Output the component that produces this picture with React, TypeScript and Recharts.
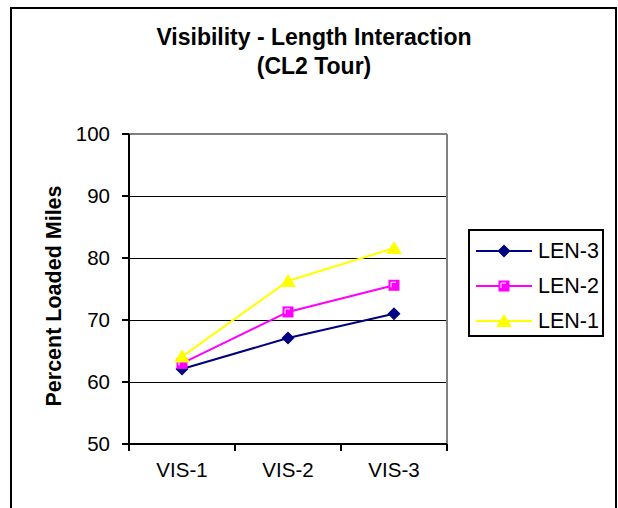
import React from "react";
import {
  LineChart,
  Line,
  XAxis,
  YAxis,
  CartesianGrid,
  ReferenceLine,
  Legend,
} from "recharts";

// values
const categories = ["VIS-1", "VIS-2", "VIS-3"];
const len3 = [62.1, 67.1, 71.0];
const len2 = [63.0, 71.3, 75.6];
const len1 = [64.1, 76.3, 81.6];
const yTicks = [50, 60, 70, 80, 90, 100];

type MarkerKind = "diamond" | "square" | "triangle";

const series: { key: string; name: string; color: string; marker: MarkerKind }[] = [
  { key: "len3", name: "LEN-3", color: "#000080", marker: "diamond" },
  { key: "len2", name: "LEN-2", color: "#FF00FF", marker: "square" },
  { key: "len1", name: "LEN-1", color: "#FFFF00", marker: "triangle" },
];

const data = categories.map((c, i) => ({
  name: c,
  len3: len3[i],
  len2: len2[i],
  len1: len1[i],
}));

const FONT = '"Liberation Sans", Arial, sans-serif';
const TICK = 7;
const X_TICK_MARGIN = 11;

function Marker({ kind, cx, cy, color }: { kind: MarkerKind; cx: number; cy: number; color: string }) {
  if (kind === "diamond") {
    return (
      <path
        d={`M${cx},${cy - 6.5} L${cx + 6.5},${cy} L${cx},${cy + 6.5} L${cx - 6.5},${cy} Z`}
        fill={color}
      />
    );
  }
  if (kind === "square") {
    return (
      <g>
        <rect x={cx - 5.5} y={cy - 5.5} width={11} height={11} fill={color} />
        <path d={`M${cx - 3},${cy + 2} V${cy - 3} H${cx + 2}`} stroke="#fff" strokeWidth={1} fill="none" />
      </g>
    );
  }
  return <path d={`M${cx},${cy - 7} L${cx + 8},${cy + 6} L${cx - 8},${cy + 6} Z`} fill={color} />;
}

function makeDot(kind: MarkerKind, color: string) {
  return (props: any) => {
    const { cx, cy, index } = props;
    if (cx == null || cy == null) return <g key={index} />;
    return (
      <g key={`${kind}-${index}`}>
        <Marker kind={kind} cx={cx} cy={cy} color={color} />
      </g>
    );
  };
}

// Excel style: tick marks between categories, label at the middle
function XTick(props: any) {
  const { x, y, payload, index } = props;
  const axisY = y - TICK - X_TICK_MARGIN;
  const half = payload.offset || 53;
  return (
    <g>
      <line x1={x - half} x2={x - half} y1={axisY} y2={axisY + TICK} stroke="#000" strokeWidth={2} />
      {index === categories.length - 1 && (
        <line x1={x + half} x2={x + half} y1={axisY} y2={axisY + TICK} stroke="#000" strokeWidth={2} />
      )}
      <text x={x} y={y} dy="0.71em" textAnchor="middle" fontSize={20.5} fontFamily={FONT} fill="#000">
        {payload.value}
      </text>
    </g>
  );
}

function YAxisTitle(props: any) {
  const vb = props.viewBox || { x: 49, y: 134, height: 310 };
  const x = vb.x + 12;
  const y = vb.y + vb.height / 2 + 7;
  return (
    <text
      x={x}
      y={y}
      transform={`rotate(-90, ${x}, ${y})`}
      textAnchor="middle"
      fontSize={21.5}
      fontWeight="bold"
      fontFamily={FONT}
      fill="#000"
    >
      Percent Loaded Miles
    </text>
  );
}

function LegendBox() {
  return (
    <div
      style={{
        width: 136,
        height: 108,
        border: "2px solid #000",
        boxSizing: "border-box",
        background: "#fff",
        position: "relative",
        fontFamily: FONT,
      }}
    >
      {series.map((s, i) => (
        <div
          key={s.key}
          style={{
            position: "absolute",
            left: 6,
            top: 9.5 + i * 35,
            height: 20,
            display: "flex",
            alignItems: "center",
          }}
        >
          <svg width={56} height={20} style={{ display: "block" }}>
            <line x1={0} x2={56} y1={10} y2={10} stroke={s.color} strokeWidth={2} />
            <Marker kind={s.marker} cx={28} cy={10} color={s.color} />
          </svg>
          <span style={{ marginLeft: 6, fontSize: 21.5, lineHeight: "20px", color: "#000", whiteSpace: "nowrap" }}>
            {s.name}
          </span>
        </div>
      ))}
    </div>
  );
}

export default function App() {
  return (
    <div
      style={{
        position: "absolute",
        left: 0,
        top: 0,
        width: 618,
        height: 508,
        overflow: "hidden",
        background: "#fff",
        fontFamily: FONT,
      }}
    >
      <div
        style={{
          position: "absolute",
          left: 10,
          top: 7,
          width: 607,
          height: 540,
          border: "2px solid #000",
          boxSizing: "border-box",
        }}
      />
      <div
        style={{
          position: "absolute",
          left: 10,
          top: 23,
          width: 608,
          textAlign: "center",
          fontSize: 23,
          fontWeight: "bold",
          lineHeight: "29px",
          color: "#000",
        }}
      >
        Visibility - Length Interaction
        <br />
        (CL2 Tour)
      </div>
      <div style={{ position: "absolute", left: 0, top: 0 }}>
        <LineChart
          width={618}
          height={508}
          data={data}
          margin={{ top: 134, right: 171, left: 49, bottom: 24 }}
        >
          <CartesianGrid vertical={false} stroke="#000" strokeWidth={1} shapeRendering="crispEdges" />
          <XAxis
            dataKey="name"
            scale="band"
            height={40}
            tickSize={TICK}
            tickMargin={X_TICK_MARGIN}
            tickLine={false}
            axisLine={{ stroke: "#000", strokeWidth: 2 }}
            tick={<XTick />}
            interval={0}
          />
          <YAxis
            width={80}
            domain={[50, 100]}
            ticks={yTicks}
            interval={0}
            tickSize={TICK}
            tickMargin={12}
            axisLine={{ stroke: "#000", strokeWidth: 2 }}
            tickLine={{ stroke: "#000", strokeWidth: 2 }}
            tick={{ fontSize: 20.5, fill: "#000", fontFamily: FONT }}
            label={<YAxisTitle />}
          />
          <ReferenceLine y={100} stroke="#808080" strokeWidth={2} />
          <ReferenceLine x={categories[categories.length - 1]} position="end" stroke="#808080" strokeWidth={2} />
          {series.map((s) => (
            <Line
              key={s.key}
              type="linear"
              dataKey={s.key}
              name={s.name}
              stroke={s.color}
              strokeWidth={2}
              dot={makeDot(s.marker, s.color)}
              activeDot={false}
              isAnimationActive={false}
            />
          ))}
          <Legend
            layout="horizontal"
            align="center"
            verticalAlign="middle"
            wrapperStyle={{ left: 468, top: 229, width: 136, height: 108 }}
            content={() => <LegendBox />}
          />
        </LineChart>
      </div>
    </div>
  );
}
